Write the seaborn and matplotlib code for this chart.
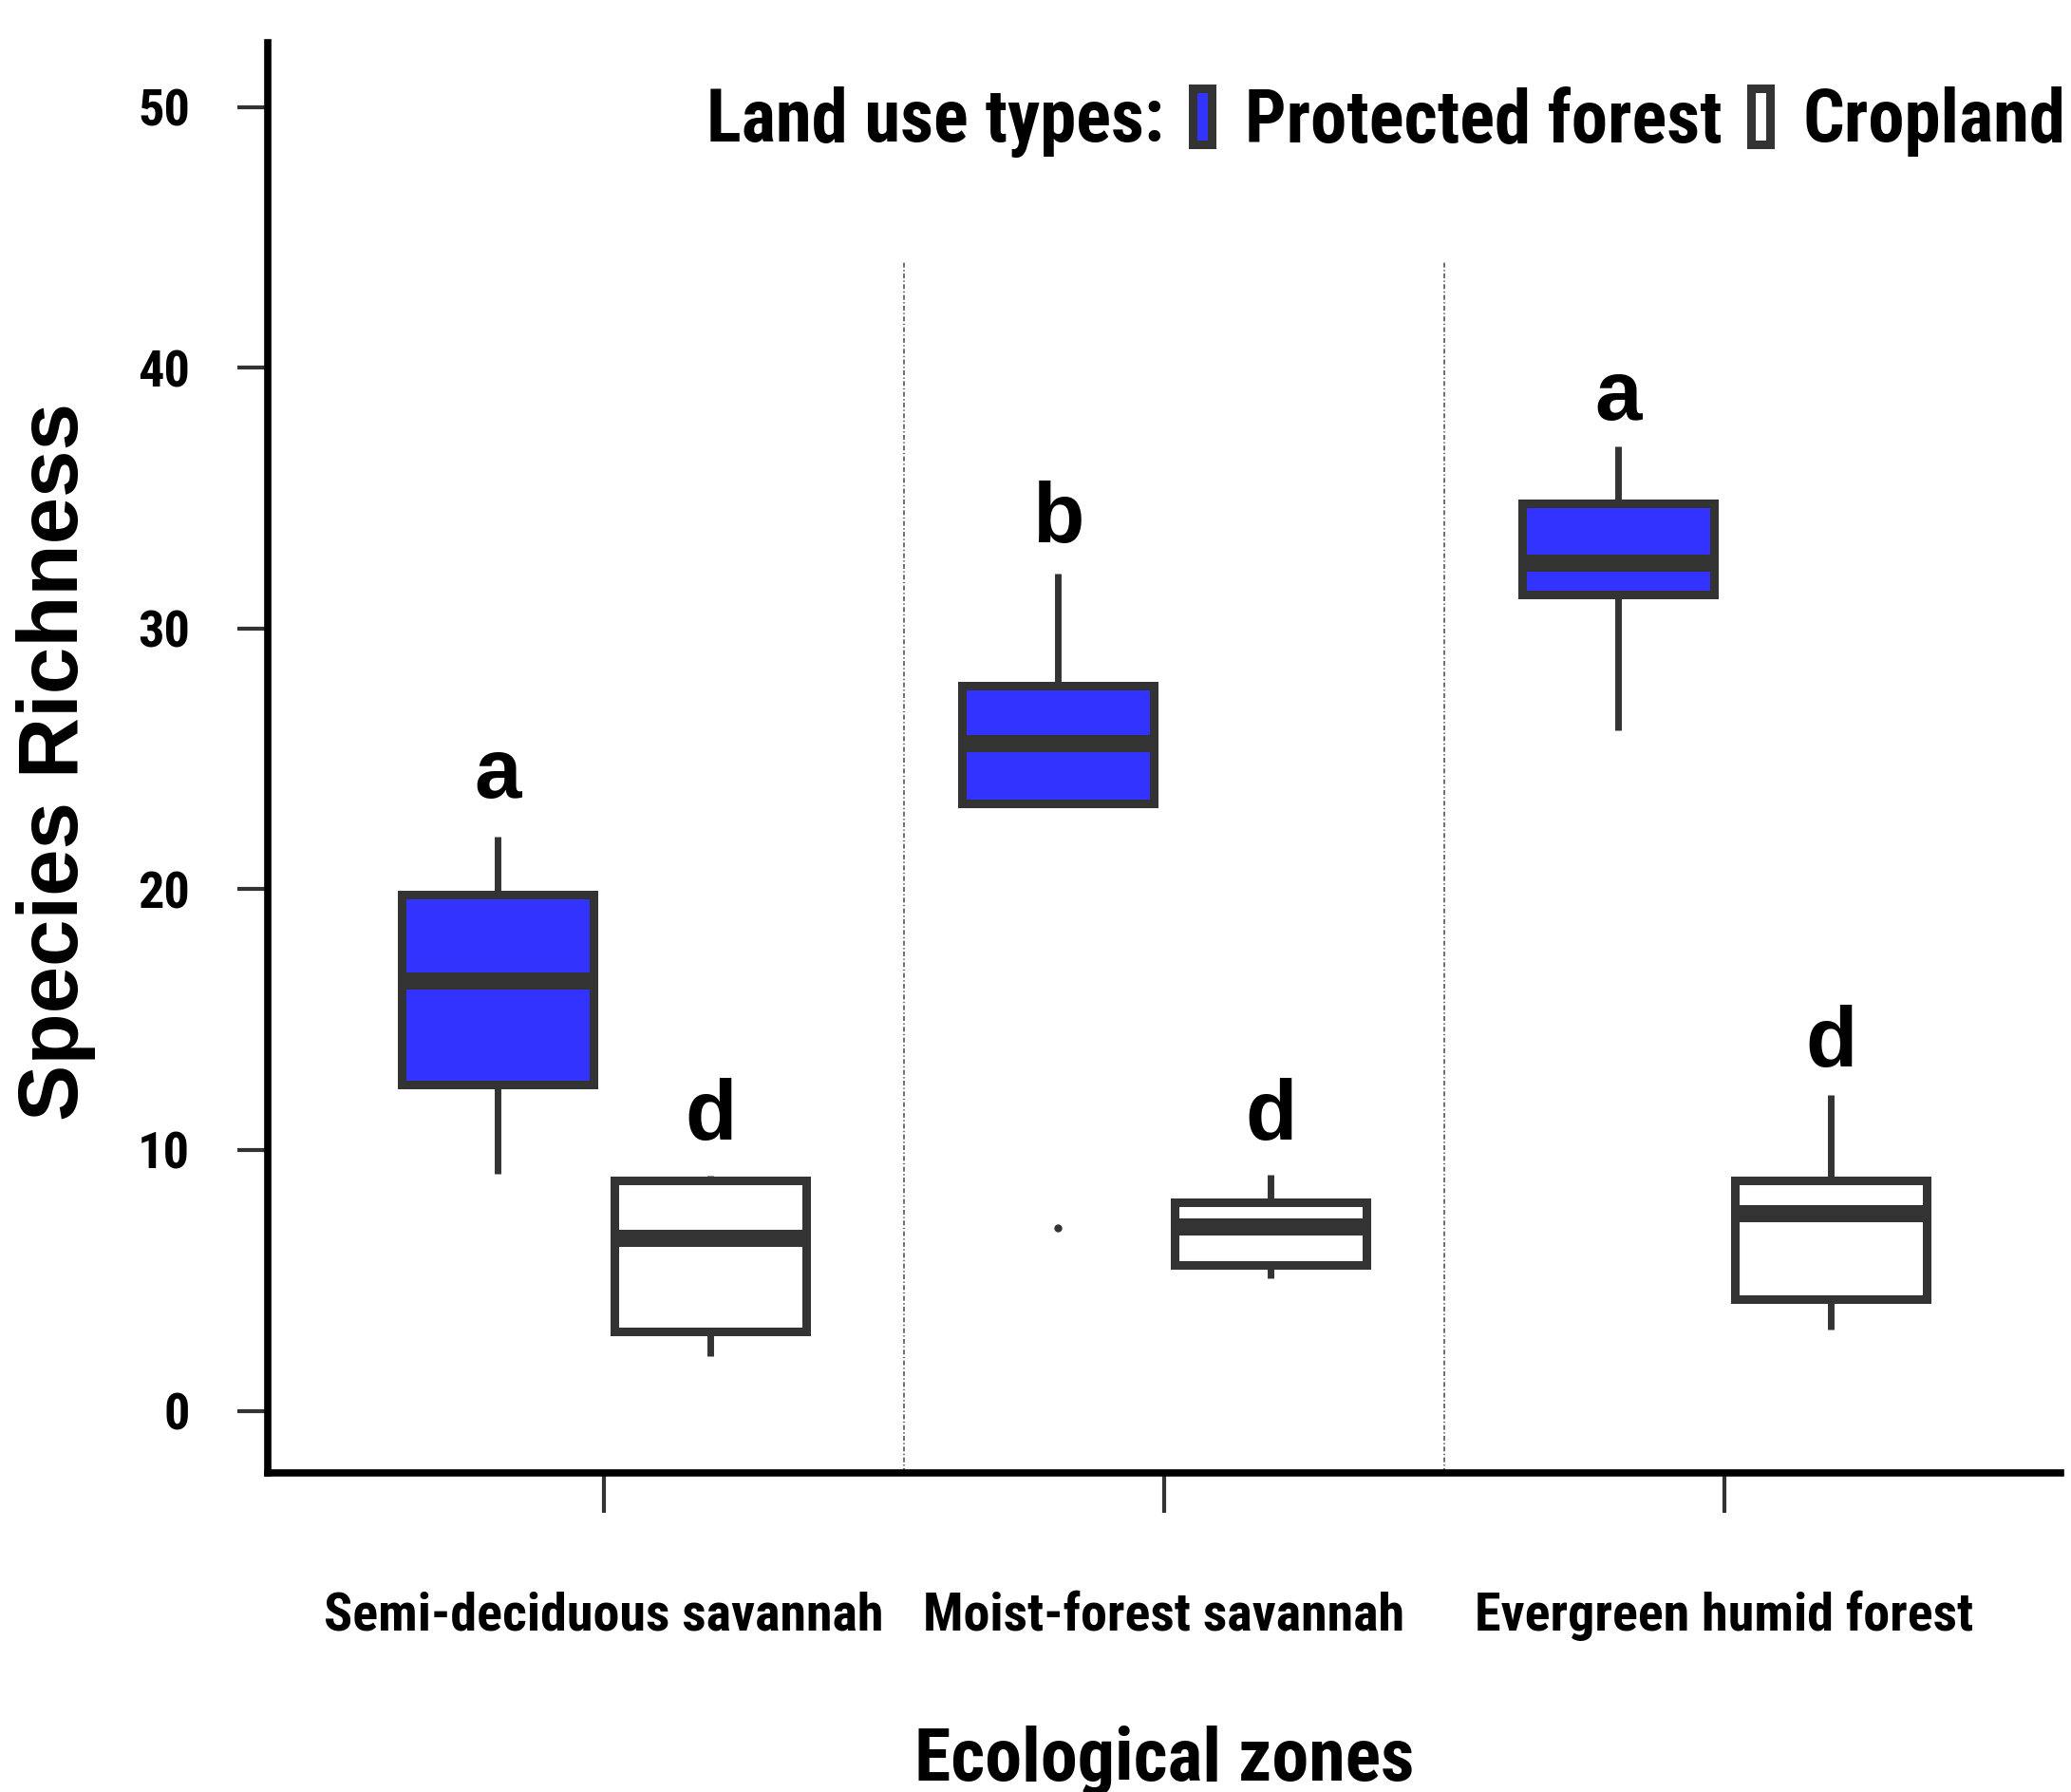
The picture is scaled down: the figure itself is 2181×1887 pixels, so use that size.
import os
import numpy as np
import pandas as pd
import matplotlib
matplotlib.use('Agg')
import matplotlib.pyplot as plt
import seaborn as sns
from matplotlib import font_manager
from matplotlib.font_manager import FontProperties
from matplotlib.textpath import TextPath
from matplotlib.patches import Patch

# ecological zones and land use types
ZONES = ['Semi-deciduous savannah', 'Moist-forest savannah', 'Evergreen humid forest']
LAND_USES = ['Protected forest', 'Cropland']

# per-group samples (min, q1, median, q3, max)
semi_protected = [9.1, 12.5, 16.5, 19.8, 22.0]
semi_cropland = [2.1, 3.05, 6.6, 8.85, 9.0]
moist_protected = [7.0, 23.3, 23.3, 25.6, 27.8, 27.8, 32.1]   # 7.0 is the outlier
moist_cropland = [5.1, 5.6, 7.05, 8.0, 9.05]
evergreen_protected = [26.1, 31.3, 32.5, 34.8, 37.0]
evergreen_cropland = [3.1, 4.3, 7.55, 8.85, 12.1]

# significance letters and where their baselines sit
letters_protected = ['a', 'b', 'a']
letters_cropland = ['d', 'd', 'd']
letter_y_protected = [23.5, 33.3, 38.0]
letter_y_cropland = [10.4, 10.4, 13.2]

groups = {
    (ZONES[0], LAND_USES[0]): semi_protected,
    (ZONES[0], LAND_USES[1]): semi_cropland,
    (ZONES[1], LAND_USES[0]): moist_protected,
    (ZONES[1], LAND_USES[1]): moist_cropland,
    (ZONES[2], LAND_USES[0]): evergreen_protected,
    (ZONES[2], LAND_USES[1]): evergreen_cropland,
}
rows = []
for (zone, lu), vals in groups.items():
    for v in vals:
        rows.append({'zone': zone, 'land_use': lu, 'richness': v})
df = pd.DataFrame(rows)

sns.set_style('ticks')
plt.rcParams['font.family'] = ['Liberation Sans', 'DejaVu Sans']
plt.rcParams['text.color'] = 'black'
plt.rcParams['axes.labelcolor'] = 'black'


def pick_condensed():
    # look for a bold condensed sans face, the reference text is very narrow
    prefs = ['liberation sans narrow', 'roboto condensed', 'roboto', 'noto sans', 'open sans', 'dejavu sans']
    best, best_rank = None, None
    for f in font_manager.fontManager.ttflist:
        name = f.name.lower()
        fn = os.path.basename(f.fname).lower().replace('-', '').replace('_', '')
        if 'mono' in name or 'serif' in name or 'cjk' in name or 'display' in name:
            continue
        cond = ('narrow' in name or 'condensed' in name or 'narrow' in fn or 'condensed' in fn
                or 'condensed' in str(f.stretch).lower())
        if not cond:
            continue
        if str(f.weight).lower() not in ('700', 'bold') or 'semibold' in fn or 'extrabold' in fn:
            continue
        if str(f.style).lower() != 'normal' or 'italic' in fn:
            continue
        fam = next((i for i, p in enumerate(prefs) if name.startswith(p)), len(prefs))
        if 'semicondensed' in fn or 'semi' in str(f.stretch).lower():
            var = 2
        elif 'extracondensed' in fn or 'extra' in str(f.stretch).lower():
            var = 1
        else:
            var = 0
        rank = (fam, var)
        if best_rank is None or rank < best_rank:
            best, best_rank = f, rank
    return best.fname if best is not None else None


cond_path = pick_condensed()
if cond_path:
    COND = FontProperties(fname=cond_path)
else:
    COND = FontProperties(family='Liberation Sans', weight='bold')


def fit_size(text, width_px, cap_px):
    # font size (pt, dpi 100) that gives the reference width without exceeding its cap height
    w = TextPath((0, 0), text, size=100, prop=COND).get_extents().width
    h = TextPath((0, 0), 'H', size=100, prop=COND).get_extents().height
    return min(width_px * 72 / w, cap_px * 72 / h)


def cond_prop(size):
    p = COND.copy()
    p.set_size(size)
    return p


DARK = '#333333'
BLUE = '#3333FF'

fig = plt.figure(figsize=(21.81, 18.87), dpi=100)
ax = fig.add_axes([0.1293, 0.1778, 0.8657, 0.7986])

sns.boxplot(data=df, x='zone', y='richness', hue='land_use',
            order=ZONES, hue_order=LAND_USES,
            palette={'Protected forest': BLUE, 'Cropland': 'white'},
            saturation=1, width=0.76, gap=0.1, linewidth=6.5, linecolor=DARK,
            showcaps=False, fliersize=5,
            whiskerprops=dict(linewidth=5, color=DARK),
            medianprops=dict(linewidth=13, color=DARK, solid_capstyle='butt'),
            flierprops=dict(marker='o', markerfacecolor=DARK, markeredgecolor=DARK),
            ax=ax)

ax.set_xlim(-0.6, 2.6)
ax.set_ylim(-2.4, 52.48)
ax.set_yticks([0, 10, 20, 30, 40, 50])

# zone separators
ax.vlines([0.535, 1.5], -2.4, 44.1, colors='#555555', linewidth=1.2,
          linestyles=[(0, (3, 1.5, 0.8, 1.5))])

# significance letters
dodge = 0.19
for i in range(len(ZONES)):
    ax.text(i - dodge, letter_y_protected[i], letters_protected[i], ha='center', va='baseline',
            fontsize=64, fontweight='bold', color='black')
    ax.text(i + dodge, letter_y_cropland[i], letters_cropland[i], ha='center', va='baseline',
            fontsize=64, fontweight='bold', color='black')

sns.despine(ax=ax)
for side in ['left', 'bottom']:
    ax.spines[side].set_color('black')
    ax.spines[side].set_linewidth(5.5)
ax.tick_params(axis='y', length=23, width=3, color=DARK, labelcolor='black', pad=36)
ax.tick_params(axis='x', length=30, width=3, color=DARK, labelcolor='black', pad=59)

ytick_size = fit_size('50', 50, 40)
for lab in ax.get_yticklabels():
    lab.set_fontproperties(cond_prop(ytick_size))
xtick_size = fit_size('Semi-deciduous savannah', 584, 49)
for lab in ax.get_xticklabels():
    lab.set_fontproperties(cond_prop(xtick_size))

ax.set_xlabel('Ecological zones', fontproperties=cond_prop(fit_size('Ecological zones', 519, 70)))
ax.xaxis.set_label_coords(0.5, -0.176)
ax.set_ylabel('Species Richness', fontsize=64, fontweight='bold')
ax.yaxis.set_label_coords(-0.096, 0.4975)

# legend: inline title followed by the two land use handles
old = ax.get_legend()
handles = list(old.legend_handles)
labels = [t.get_text() for t in old.get_texts()]
old.remove()
blank = Patch(facecolor='none', edgecolor='none')
ax.legend(handles=[blank] + handles, labels=['Land use types:'] + labels, ncol=3,
          loc='upper right', bbox_to_anchor=(1.003, 0.969), frameon=False,
          prop=cond_prop(fit_size('Land use types:', 474, 64)),
          handlelength=0.26, handleheight=0.8, handletextpad=0.45, columnspacing=0.4,
          borderpad=0, borderaxespad=0)

fig.savefig('out.png', dpi=100)
